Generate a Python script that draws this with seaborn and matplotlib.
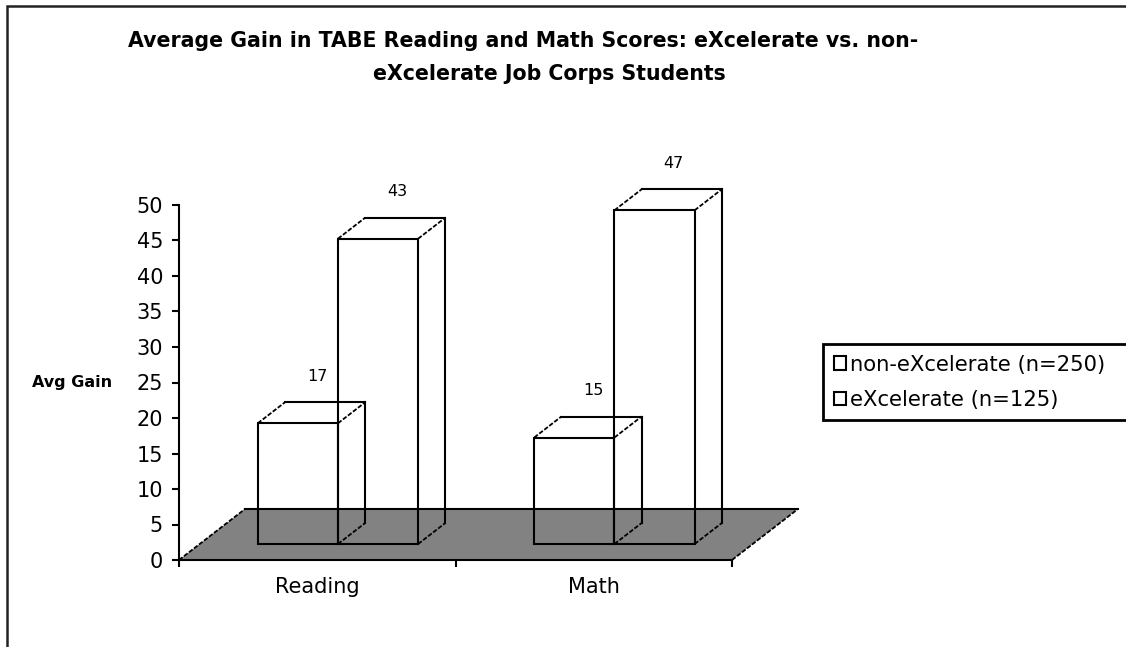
import numpy as np
import pandas as pd
import matplotlib
matplotlib.use("Agg")
import matplotlib.pyplot as plt
import matplotlib.transforms as mtransforms
from matplotlib.patches import Polygon, Rectangle, Patch
from matplotlib.lines import Line2D
import seaborn as sns

# ---------------- data ----------------
categories = ["Reading", "Math"]
groups = ["non-eXcelerate (n=250)", "eXcelerate (n=125)"]
non_excelerate = [17, 15]
excelerate = [43, 47]
y_ticks = [0, 5, 10, 15, 20, 25, 30, 35, 40, 45, 50]
title_lines = ["Average Gain in TABE Reading and Math Scores: eXcelerate vs. non-",
               "eXcelerate Job Corps Students"]
y_label = "Avg Gain"

df = pd.DataFrame({
    "Subject": categories * 2,
    "Group": [groups[0]] * len(categories) + [groups[1]] * len(categories),
    "Gain": non_excelerate + excelerate,
})

# ---------------- style ----------------
sns.set_style("white")
plt.rcParams["font.family"] = ["DejaVu Sans"]
for k in ["text.color", "axes.labelcolor", "xtick.color", "ytick.color"]:
    plt.rcParams[k] = "black"

W, H = 1126, 647
fig = plt.figure(figsize=(W / 100, H / 100), dpi=100)
ax = fig.add_axes([179 / W, (H - 560) / H, (732 - 179) / W, (560 - 205) / H])
ax.set_facecolor("none")

sns.barplot(data=df, x="Subject", y="Gain", hue="Group", order=categories,
            hue_order=groups, width=0.58, dodge=True, errorbar=None,
            palette=["white", "white"], legend=False, ax=ax)
bars = list(ax.patches)
ax.set_xlim(-0.5, len(categories) - 0.5)
ax.set_ylim(y_ticks[0], y_ticks[-1])

# 3D depth (display pixels) of floor and bar front/back planes
DEPTH = (66.0, 51.0)
T_FRONT, T_BACK = 16 / 51, 37 / 51
LW = 1.5
DIAG = dict(color="black", lw=1.3, linestyle=(0, (2.5, 1.0)))
IDT = mtransforms.IdentityTransform()


def disp(x, y, t):
    px, py = ax.transData.transform((x, y))
    return px + t * DEPTH[0], py + t * DEPTH[1]


def seg(p, q, **kw):
    ln = Line2D([p[0], q[0]], [p[1], q[1]], transform=IDT, clip_on=False,
                zorder=kw.pop("zorder", 4), solid_capstyle="projecting", **kw)
    ax.add_line(ln)


# floor
x_lo, x_hi = ax.get_xlim()
y0 = ax.get_ylim()[0]
floor = [disp(x_lo, y0, 0), disp(x_hi, y0, 0), disp(x_hi, y0, 1), disp(x_lo, y0, 1)]
ax.add_patch(Polygon(floor, closed=True, facecolor="#828282", edgecolor="none",
                     transform=IDT, clip_on=False, zorder=1))
seg(floor[3], floor[2], color="black", lw=LW, zorder=2)
seg(floor[0], floor[3], zorder=2, **DIAG)
seg(floor[1], floor[2], zorder=2, **DIAG)

# bars as see-through wireframe boxes
front_tr = ax.transData + mtransforms.ScaledTranslation(
    T_FRONT * DEPTH[0] / 100, T_FRONT * DEPTH[1] / 100, fig.dpi_scale_trans)
for p in bars:
    p.set_fill(False)
    p.set_alpha(None)
    p.set_facecolor((0, 0, 0, 0))
    p.set_edgecolor("black")
    p.set_linewidth(LW)
    p.set_transform(front_tr)
    p.set_clip_on(False)
    p.set_zorder(4)
    xa, xb = p.get_x(), p.get_x() + p.get_width()
    ya, yb = p.get_y(), p.get_y() + p.get_height()
    seg(disp(xa, yb, T_BACK), disp(xb, yb, T_BACK), color="black", lw=LW)
    seg(disp(xb, yb, T_BACK), disp(xb, ya, T_BACK), color="black", lw=LW)
    seg(disp(xa, yb, T_FRONT), disp(xa, yb, T_BACK), **DIAG)
    seg(disp(xb, yb, T_FRONT), disp(xb, yb, T_BACK), **DIAG)
    seg(disp(xb, ya, T_FRONT), disp(xb, ya, T_BACK), **DIAG)
    # value label above the back face
    off_x = (T_BACK * DEPTH[0] - 8) * 0.72
    off_y = (T_BACK * DEPTH[1] + 26) * 0.72
    ax.annotate(f"{p.get_height():.0f}", xy=((xa + xb) / 2, yb),
                xytext=(off_x, off_y), textcoords="offset points",
                ha="center", va="center", fontsize=11.5, annotation_clip=False)

# axes styling
for s in ["top", "right"]:
    ax.spines[s].set_visible(False)
for s in ["left", "bottom"]:
    ax.spines[s].set_color("black")
    ax.spines[s].set_linewidth(LW)
    ax.spines[s].set_zorder(3)
ax.set_yticks(y_ticks)
ax.set_yticklabels([str(v) for v in y_ticks], fontsize=15)
ax.tick_params(axis="y", direction="out", length=5, width=LW, pad=6.5,
               color="black", left=True)
ax.set_xticks(range(len(categories)))
ax.set_xticklabels(categories, fontsize=15)
ax.tick_params(axis="x", which="major", length=0, pad=12.5)
ax.set_xticks(np.arange(len(categories) + 1) - 0.5, minor=True)
ax.tick_params(axis="x", which="minor", direction="out", length=5, width=LW,
               color="black", bottom=True)
ax.set_xlabel("")
ax.set_ylabel(y_label, rotation=0, ha="right", va="center", fontsize=11.5,
              fontweight="bold")
ax.yaxis.set_label_coords((112 - 179) / (732 - 179), (560 - 382) / (560 - 205))
ax.grid(False)

# title
fig.text(523 / W, 1 - 47 / H, title_lines[0], ha="center", va="baseline",
         fontsize=14.8, fontweight="bold")
fig.text(549 / W, 1 - 80 / H, title_lines[1], ha="center", va="baseline",
         fontsize=14.8, fontweight="bold")

# legend
handles = [Patch(facecolor="white", edgecolor="black", linewidth=1.5) for _ in groups]
leg = fig.legend(handles, groups, loc="upper left",
                 bbox_to_anchor=(823 / W, 1 - 423 / H, (1145 - 823) / W, 79 / H),
                 mode="expand", borderaxespad=0, fontsize=15.2, frameon=True,
                 fancybox=False, framealpha=1, edgecolor="black",
                 handlelength=0.6, handleheight=0.6, handletextpad=0.2,
                 labelspacing=0.72, borderpad=0.5)
leg.get_frame().set_linewidth(2)

# outer frame (open to the right and bottom)
fig.add_artist(Rectangle((7.5 / W, -0.5), 2.0, 1 - 6 / H + 0.5,
                         transform=fig.transFigure, fill=False,
                         edgecolor="#222222", lw=1.8))

fig.savefig("out.png", dpi=100)
